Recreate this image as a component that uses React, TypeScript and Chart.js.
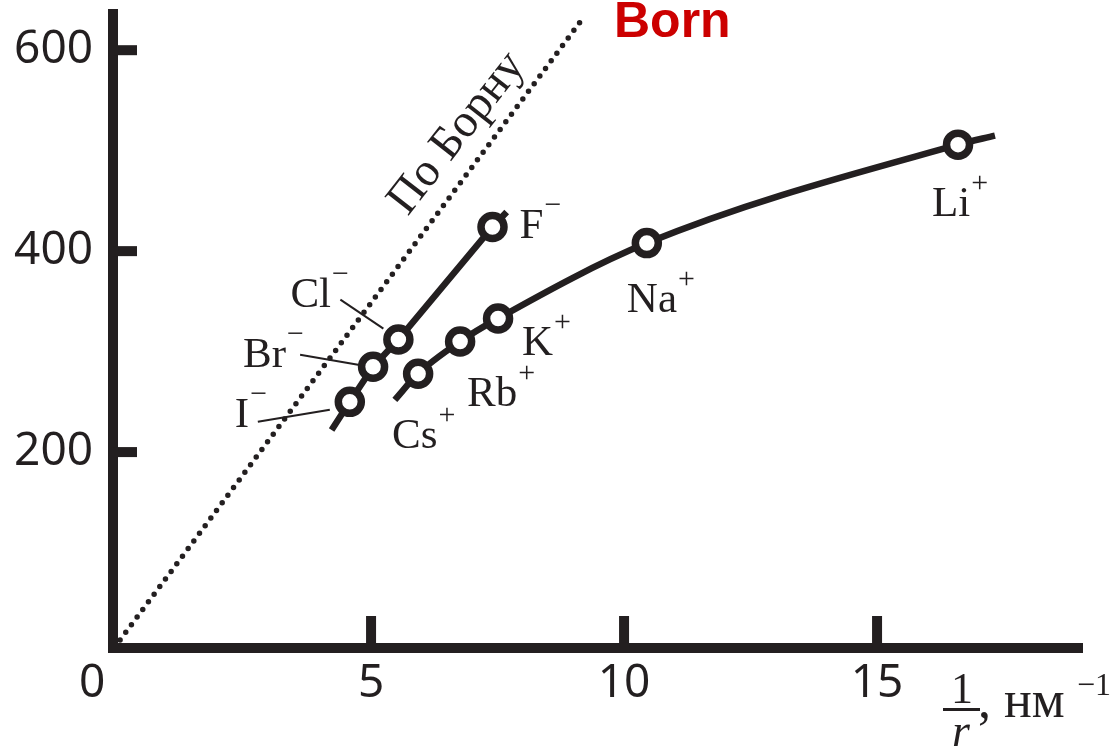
import React, { useEffect, useRef } from "react";
import { Chart, registerables } from "chart.js";

Chart.register(...registerables);

// ---- data ----
const xTickValues = [5, 10, 15];
const yTickValues = [200, 400, 600];

// Born line (dotted)
const bornX = [0.04, 9.13];
const bornY = [13, 628];

// anions: I-, Br-, Cl-, F- (with short line extensions at both ends)
const anionNames = ["", "I", "Br", "Cl", "F", ""];
const anionX = [4.22, 4.58, 5.04, 5.54, 7.4, 7.68];
const anionY = [222, 250, 285, 312, 424, 439];

// cations: Cs+, Rb+, K+, Na+, Li+ (with short line extensions)
const cationNames = ["", "Cs", "Rb", "K", "Na", "Li", ""];
const cationX = [5.47, 5.93, 6.76, 7.51, 10.45, 16.6, 17.33];
const cationY = [252, 278, 310, 333, 408, 506, 515];

// labels: [text, sup, dataset index, point index, dx, dy]
const labelDefs: [string, string, number, number, number, number][] = [
  ["F", "−", 1, 4, 27, 11],
  ["Cl", "−", 1, 3, -108, -33],
  ["Br", "−", 1, 2, -130, 0],
  ["I", "−", 1, 1, -115, 25],
  ["Cs", "+", 2, 1, -26, 74],
  ["Rb", "+", 2, 2, 7, 64],
  ["K", "+", 2, 3, 24, 37],
  ["Na", "+", 2, 4, -20, 69],
  ["Li", "+", 2, 5, -26, 71],
];
// leader lines: [dataset, point, x1off, y1off, x2off, y2off]
const leaderDefs: [number, number, number, number, number, number][] = [
  [1, 3, -58, -40, -15, -11],
  [1, 2, -73, -12, -15, -2],
  [1, 1, -92, 20, -20, 8],
];

const INK = "#231f20";

const toPts = (xs: number[], ys: number[]) => xs.map((x, i) => ({ x, y: ys[i] }));

export default function App() {
  const ref = useRef<HTMLCanvasElement | null>(null);
  useEffect(() => {
    document.body.style.margin = "0";
    const canvas = ref.current!;
    const decor = {
      id: "decor",
      afterDatasetsDraw(chart: any) {
        const ctx = chart.ctx as CanvasRenderingContext2D;
        const xs = chart.scales.x;
        const ys = chart.scales.y;
        const a = chart.chartArea;
        ctx.save();
        ctx.fillStyle = INK;
        ctx.strokeStyle = INK;
        // axes
        ctx.fillRect(a.left - 5, a.top, 10, a.bottom - a.top + 5);
        ctx.fillRect(a.left - 5, a.bottom - 5, a.right - a.left + 5, 10);
        // y ticks (inward)
        ctx.font = "46px 'Noto Sans'";
        ctx.textAlign = "right";
        ctx.textBaseline = "middle";
        yTickValues.forEach((v) => {
          const py = ys.getPixelForValue(v);
          ctx.fillRect(a.left, py - 5, 24, 10);
          ctx.fillText(String(v), a.left - 20, py);
        });
        // x ticks (inward)
        ctx.textAlign = "center";
        xTickValues.forEach((v) => {
          const px = xs.getPixelForValue(v);
          ctx.fillRect(px - 5, a.bottom - 32, 10, 32);
          ctx.fillText(String(v), px, a.bottom + 36);
        });
        ctx.fillText("0", xs.getPixelForValue(0) - 26, a.bottom + 36);

        // axis title 1/r, нм^-1
        ctx.font = "44px 'Liberation Serif'";
        ctx.textBaseline = "alphabetic";
        ctx.textAlign = "center";
        ctx.fillText("1", 962, 703);
        ctx.fillRect(943, 708, 37, 3);
        ctx.font = "italic 46px 'Liberation Serif'";
        ctx.fillText("r", 961, 746);
        ctx.font = "52px 'Liberation Serif'";
        ctx.textAlign = "left";
        ctx.fillText(", нм", 978, 717);
        ctx.font = "32px 'Liberation Serif'";
        ctx.fillText("−1", 1077, 695);

        // point labels
        labelDefs.forEach(([t, sup, di, pi, dx, dy]) => {
          const el = chart.getDatasetMeta(di).data[pi];
          const x = el.x + dx;
          const y = el.y + dy;
          ctx.font = "43px 'Liberation Serif'";
          ctx.textAlign = "left";
          ctx.fillText(t, x, y);
          const w = ctx.measureText(t).width;
          ctx.font = "30px 'Liberation Serif'";
          ctx.fillText(sup, x + w + 1, y - 24);
        });
        // leader lines
        ctx.lineWidth = 2;
        leaderDefs.forEach(([di, pi, x1, y1, x2, y2]) => {
          const el = chart.getDatasetMeta(di).data[pi];
          ctx.beginPath();
          ctx.moveTo(el.x + x1, el.y + y1);
          ctx.lineTo(el.x + x2, el.y + y2);
          ctx.stroke();
        });

        // По Борну
        const bx = xs.getPixelForValue(6.7);
        const by = ys.getPixelForValue(517);
        ctx.save();
        ctx.translate(bx, by);
        ctx.rotate((-52 * Math.PI) / 180);
        ctx.font = "47px 'Liberation Serif'";
        ctx.textAlign = "center";
        ctx.textBaseline = "middle";
        ctx.fillText("По Борну", 0, 0);
        ctx.restore();

        // Born title
        ctx.fillStyle = "#cc0000";
        ctx.font = "bold 50px 'Liberation Sans'";
        ctx.textAlign = "left";
        ctx.textBaseline = "alphabetic";
        ctx.fillText("Born", 614, 37);
        ctx.restore();
      },
    };
    const chart = new Chart(canvas, {
      type: "scatter",
      data: {
        datasets: [
          {
            data: toPts(bornX, bornY),
            showLine: true,
            borderColor: INK,
            borderWidth: 5.5,
            borderDash: [0, 9.5],
            borderCapStyle: "round",
            pointRadius: 0,
          },
          {
            data: toPts(anionX, anionY),
            showLine: true,
            borderColor: INK,
            borderWidth: 6.5,
            pointRadius: anionNames.map((n) => (n ? 11.5 : 0)),
            pointBorderWidth: 7.5,
            pointBorderColor: INK,
            pointBackgroundColor: "#ffffff",
          },
          {
            data: toPts(cationX, cationY),
            showLine: true,
            borderColor: INK,
            borderWidth: 6.5,
            cubicInterpolationMode: "monotone",
            pointRadius: cationNames.map((n) => (n ? 11.5 : 0)),
            pointBorderWidth: 7.5,
            pointBorderColor: INK,
            pointBackgroundColor: "#ffffff",
          },
        ],
      } as any,
      options: {
        animation: false,
        responsive: false,
        layout: { padding: { left: 113, right: 32, top: 9, bottom: 103 } },
        plugins: { legend: { display: false }, tooltip: { enabled: false } },
        scales: {
          x: { type: "linear", min: -0.1, max: 19.07, display: false },
          y: { type: "linear", min: 5, max: 641, display: false },
        },
      },
      plugins: [decor],
    });
    return () => chart.destroy();
  }, []);
  return (
    <div style={{ position: "absolute", left: 0, top: 0, width: 1115, height: 751, background: "#fff" }}>
      <canvas ref={ref} width={1115} height={751} />
    </div>
  );
}
